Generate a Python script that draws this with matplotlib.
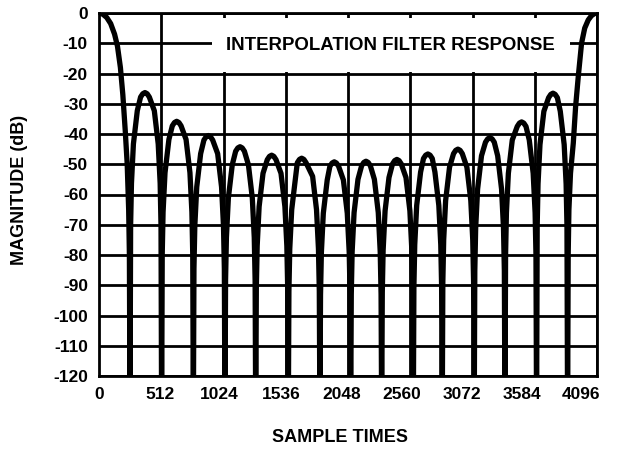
import matplotlib
matplotlib.use("Agg")
import matplotlib.pyplot as plt
from matplotlib.patches import Rectangle

# main lobe, left edge
main_left_x = [0, 32, 64, 96, 128, 152, 176, 196, 216, 232, 244, 250, 255]
main_left_db = [0, -0.4, -1.5, -3.5, -7, -11, -18, -27, -39, -50, -65, -80, -135]

# side lobes (nulls dip below the -120 floor)
side_x = [
    260, 267, 283, 315, 342, 360, 378, 396, 414, 455, 487, 503, 510, 515,
    520, 527, 543, 575, 603, 621, 639, 657, 675, 716, 748, 764, 771, 776,
    781, 788, 804, 836, 863, 881, 899, 917, 935, 976, 1008, 1024, 1031, 1036,
    1041, 1048, 1064, 1096, 1124, 1142, 1160, 1178, 1196, 1229, 1261, 1277, 1284, 1289,
    1294, 1301, 1317, 1349, 1384, 1402, 1420, 1438, 1456, 1497, 1529, 1545, 1552, 1557,
    1562, 1569, 1585, 1617, 1631, 1649, 1667, 1685, 1703, 1757, 1789, 1805, 1812, 1817,
    1822, 1829, 1845, 1877, 1899, 1917, 1935, 1953, 1971, 2010, 2042, 2058, 2065, 2070,
    2075, 2082, 2098, 2130, 2160, 2178, 2196, 2214, 2232, 2265, 2297, 2313, 2320, 2325,
    2330, 2337, 2353, 2385, 2414, 2432, 2450, 2468, 2486, 2525, 2557, 2573, 2580, 2585,
    2590, 2597, 2613, 2645, 2669, 2687, 2705, 2723, 2741, 2763, 2795, 2811, 2818, 2823,
    2828, 2835, 2851, 2883, 2916, 2934, 2952, 2970, 2988, 3026, 3058, 3074, 3081, 3086,
    3091, 3098, 3114, 3146, 3179, 3197, 3215, 3233, 3251, 3279, 3311, 3327, 3334, 3339,
    3344, 3351, 3367, 3399, 3440, 3458, 3476, 3494, 3512, 3539, 3571, 3587, 3594, 3599,
    3604, 3611, 3627, 3659, 3698, 3716, 3734, 3752, 3770, 3794, 3826, 3842, 3849, 3854,
]
side_db = [
    -70.3, -56.3, -43.3, -32.3, -27.8, -26.7, -26.3, -26.7, -27.8, -32.3, -43.3, -56.3, -70.3, -135,
    -79.8, -65.8, -52.8, -41.8, -37.3, -36.2, -35.8, -36.2, -37.3, -41.8, -52.8, -65.8, -79.8, -135,
    -84.5, -70.5, -57.5, -46.5, -42, -40.9, -40.5, -40.9, -42, -46.5, -57.5, -70.5, -84.5, -135,
    -88.2, -74.2, -61.2, -50.2, -45.7, -44.6, -44.2, -44.6, -45.7, -50.2, -61.2, -74.2, -88.2, -135,
    -91, -77, -64, -53, -48.5, -47.4, -47, -47.4, -48.5, -53, -64, -77, -91, -135,
    -92, -78, -65, -54, -49.5, -48.4, -48, -48.4, -49.5, -54, -65, -78, -92, -135,
    -93.2, -79.2, -66.2, -55.2, -50.7, -49.6, -49.2, -49.6, -50.7, -55.2, -66.2, -79.2, -93.2, -135,
    -93, -79, -66, -55, -50.5, -49.4, -49, -49.4, -50.5, -55, -66, -79, -93, -135,
    -92.4, -78.4, -65.4, -54.4, -49.9, -48.8, -48.4, -48.8, -49.9, -54.4, -65.4, -78.4, -92.4, -135,
    -90.6, -76.6, -63.6, -52.6, -48.1, -47.0, -46.6, -47.0, -48.1, -52.6, -63.6, -76.6, -90.6, -135,
    -89, -75, -62, -51, -46.5, -45.4, -45, -45.4, -46.5, -51, -62, -75, -89, -135,
    -85.2, -71.2, -58.2, -47.2, -42.7, -41.6, -41.2, -41.6, -42.7, -47.2, -58.2, -71.2, -85.2, -135,
    -80, -66, -53, -42, -37.5, -36.4, -36, -36.4, -37.5, -42, -53, -66, -80, -135,
    -70.5, -56.5, -43.5, -32.5, -28, -26.9, -26.5, -26.9, -28, -32.5, -43.5, -56.5, -70.5, -135,
]

# main lobe, right edge
main_right_x = [3859, 3865, 3878, 3901, 3920, 3942, 3969, 3995, 4024, 4050, 4075, 4096]
main_right_db = [-80, -65, -53, -43, -31, -21, -10, -5, -2.3, -0.9, -0.2, 0]

grid_x = [0, 512, 1024, 1536, 2048, 2560, 3072, 3584, 4096]
x_labels = ["0", "512", "1024", "1536", "2048", "2560", "3072", "3584", "4096"]
x_label_pos = [0, 502, 990, 1500, 2000, 2493, 2986, 3479, 3964]
y_ticks = list(range(-120, 1, 10))

plt.rcParams['font.family'] = ['Liberation Sans', 'DejaVu Sans']
plt.rcParams['font.weight'] = 'bold'

fig = plt.figure(figsize=(6.18, 4.49), dpi=100)
ax = fig.add_axes([99 / 618, 1 - 376 / 449, 498 / 618, 363 / 449])

xs = main_left_x + side_x + main_right_x
ys = main_left_db + side_db + main_right_db
ax.plot(xs, ys, color='black', lw=3.8, solid_joinstyle='round', zorder=3)

ax.set_xlim(0, 4096)
ax.set_ylim(-120, 0)

ax.set_xticks(x_label_pos)
ax.set_xticklabels(x_labels, fontsize=12.5, fontweight='bold')
ax.set_xticks(grid_x, minor=True)
ax.set_yticks(y_ticks)
ax.set_yticklabels([str(v) for v in y_ticks], fontsize=12.5, fontweight='bold')
ax.tick_params(axis='both', which='both', length=0, pad=8)

ax.set_axisbelow(True)
ax.grid(True, axis='x', which='minor', color='black', lw=2.0)
ax.grid(True, axis='y', which='major', color='black', lw=2.0)
ax.grid(False, axis='x', which='major')
for s in ax.spines.values():
    s.set_linewidth(2.0)

# white box behind the title cuts the grid
ax.add_patch(Rectangle((929, -19.4), 2944, 17.8, facecolor='white',
                       edgecolor='none', zorder=1.5))
ax.text(2400, -10.6, "INTERPOLATION FILTER RESPONSE", ha='center', va='center',
        fontsize=13.4, fontweight='bold', zorder=4)

fig.text(340 / 618, 1 - 437 / 449, "SAMPLE TIMES", ha='center', va='center',
         fontsize=13, fontweight='bold')
fig.text(20 / 618, 1 - 190 / 449, "MAGNITUDE (dB)", ha='center', va='center',
         rotation=90, fontsize=13, fontweight='bold')

fig.savefig("out.png", dpi=100)
